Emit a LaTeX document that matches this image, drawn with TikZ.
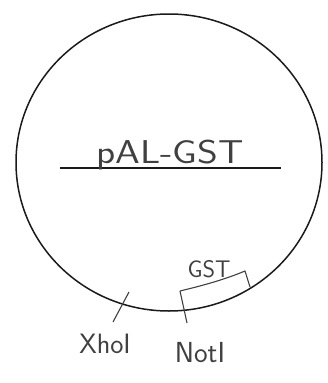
\documentclass[tikz,border=0pt]{standalone}
\usepackage{tikz}
\usetikzlibrary{positioning}
\definecolor{inkblack}{HTML}{1A1A1A}
\definecolor{pencilgray}{HTML}{404040}
\tikzset{
  hand/.style={text=pencilgray, inner sep=0pt},
  site/.style={pencilgray, line width=1.1pt}
}

\begin{document}
\begin{tikzpicture}[x=1pt,y=-1pt]
\useasboundingbox (0,0) rectangle (327,383);
\draw[inkblack, line width=1.5pt] (169,162.5) ellipse [x radius=153, y radius=148.5];
\draw[inkblack, line width=1.8pt] (60,168) -- (281,168);
\node[hand, font=\sffamily\fontsize{33}{33}\selectfont, xscale=1.2, anchor=base] (plasmid) at (170,163) {pAL-GST};
\coordinate (xhoin) at (129,292);
\coordinate (xhoout) at (113,322);
\draw[site] (xhoin) -- (xhoout);
\node[hand, font=\sffamily\fontsize{28}{28}\selectfont, anchor=base] (xho) at (105,353) {XhoI};
\coordinate (notin) at (180,291);
\coordinate (notout) at (187,323);
\draw[site] (notin) -- (notout);
\node[hand, font=\sffamily\fontsize{29}{29}\selectfont, anchor=base] (not) at (200,362) {NotI};
\coordinate (gstend) at (245,271);
\coordinate (gstout) at (250,287);
\draw[site] (notin) .. controls (205,285) and (226,279) .. (gstend) -- (gstout);
\node[hand, font=\sffamily\fontsize{24}{24}\selectfont, anchor=base] (gst) at (209,277) {GST};
\end{tikzpicture}
\end{document}
